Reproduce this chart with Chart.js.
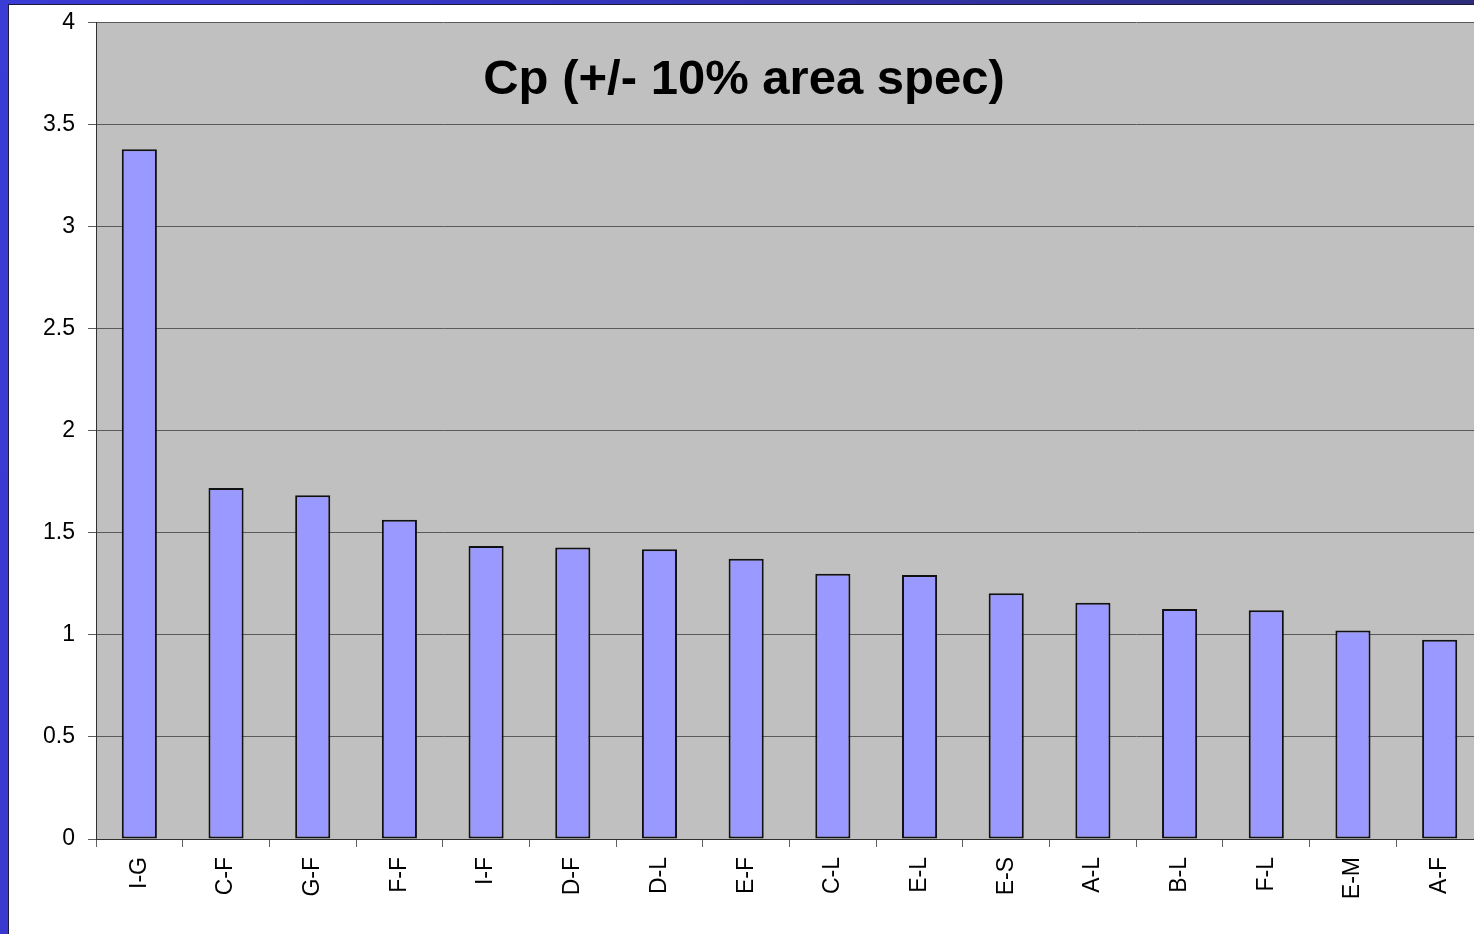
<!DOCTYPE html>
<html>
<head>
<meta charset="utf-8">
<script src="https://cdn.jsdelivr.net/npm/chart.js@4/dist/chart.umd.min.js"></script>
<style>
  html, body { margin: 0; padding: 0; }
  body {
    width: 1474px;
    height: 934px;
    overflow: hidden;
    position: relative;
    background: linear-gradient(100deg, #3b3bd6 0%, #3434b8 40%, #2c2c78 90%, #2a2a5e 100%);
  }
  #panel {
    position: absolute;
    left: 8px;
    top: 4px;
    width: 1500px;
    height: 940px;
    background: #fff;
    border-top: 1px solid #1a1a40;
    border-left: 1px solid #1a1a40;
    box-sizing: border-box;
  }
  #chart { position: absolute; left: -1px; top: -9px; }
</style>
</head>
<body>
<div id="panel">
  <canvas id="chart" width="1480" height="938"></canvas>
</div>
<script>
const chartTitle = "Cp (+/- 10% area spec)";
const categories = ["I-G", "C-F", "G-F", "F-F", "I-F", "D-F", "D-L", "E-F", "C-L", "E-L", "E-S", "A-L", "B-L", "F-L", "E-M", "A-F"];
const cpValues = [3.38, 1.72, 1.685, 1.565, 1.436, 1.428, 1.42, 1.374, 1.30, 1.294, 1.204, 1.158, 1.127, 1.121, 1.022, 0.977];
const yTicks = [0, 0.5, 1, 1.5, 2, 2.5, 3, 3.5, 4];

const FONT = '"Liberation Sans", Arial, sans-serif';

// gray plot area behind the bars, title on top of it
const plotDecor = {
  id: "plotDecor",
  beforeDraw(chart) {
    const { ctx, chartArea: a } = chart;
    ctx.save();
    ctx.fillStyle = "#c0c0c0";
    ctx.fillRect(a.left, a.top, a.right - a.left, a.bottom - a.top);
    ctx.restore();
  },
  afterDatasetsDraw(chart) {
    const { ctx, chartArea: a } = chart;
    ctx.save();
    ctx.font = "bold 49px " + FONT;
    ctx.fillStyle = "#000";
    ctx.textAlign = "center";
    ctx.textBaseline = "middle";
    ctx.fillText(chartTitle, 736, a.top + 58);
    ctx.restore();
  },
};

new Chart(document.getElementById("chart"), {
  type: "bar",
  data: {
    labels: categories,
    datasets: [
      {
        data: cpValues,
        backgroundColor: "#9999ff",
        borderColor: "#111",
        borderWidth: 2,
        borderSkipped: false,
        barPercentage: 0.405,
        categoryPercentage: 1,
      },
    ],
  },
  options: {
    responsive: false,
    animation: false,
    events: [],
    layout: { padding: { top: 0, right: 5, left: 0, bottom: 0 } },
    plugins: {
      legend: { display: false },
      title: { display: false },
      tooltip: { enabled: false },
    },
    scales: {
      x: {
        afterFit: (s) => { s.height = 95; },
        grid: {
          offset: true,
          drawOnChartArea: false,
          tickLength: 8,
          color: "#606060",
        },
        border: { display: true, color: "#303030", width: 1 },
        ticks: {
          autoSkip: false,
          minRotation: 90,
          maxRotation: 90,
          padding: 10,
          color: "#000",
          font: { family: FONT, size: 23 },
        },
      },
      y: {
        min: 0,
        max: 4,
        afterFit: (s) => { s.width = 88; },
        afterBuildTicks: (s) => { s.ticks = yTicks.map((v) => ({ value: v })); },
        grid: {
          tickLength: 8,
          color: "#5a5a5a",
          lineWidth: 1,
        },
        border: { display: true, color: "#303030", width: 1 },
        ticks: {
          padding: 13,
          color: "#000",
          font: { family: FONT, size: 23 },
          callback: (v) => String(v),
        },
      },
    },
  },
  plugins: [plotDecor],
});
</script>
</body>
</html>
